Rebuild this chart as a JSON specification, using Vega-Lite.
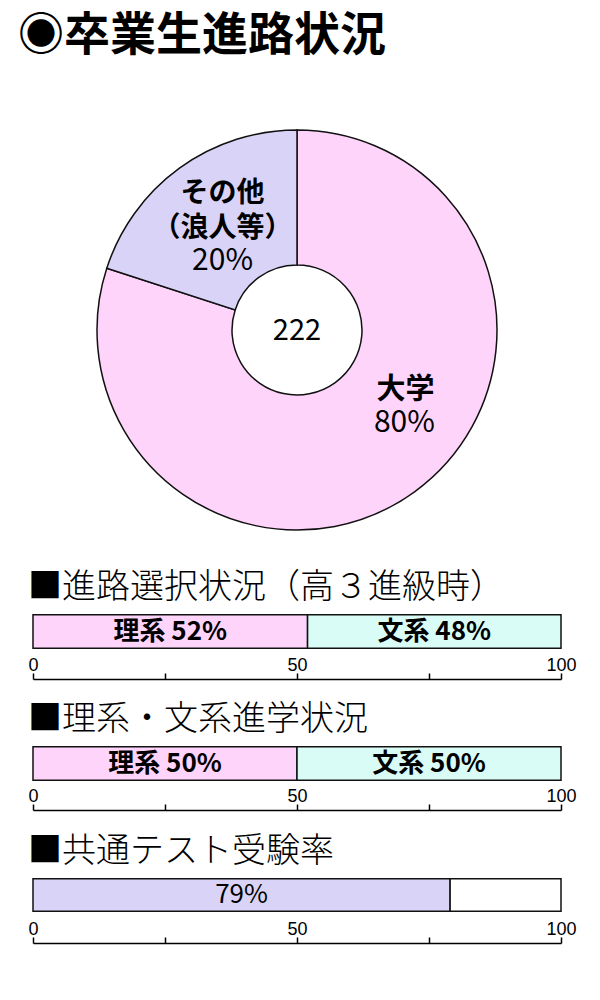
{
  "$schema": "https://vega.github.io/schema/vega-lite/v6.json",
  "padding": {"left": 18, "top": 13, "right": 5, "bottom": 5},
  "background": "white",
  "config": {
    "font": "Noto Sans CJK JP",
    "view": {"stroke": null},
    "axis": {
      "grid": false,
      "title": null,
      "domainColor": "black",
      "domainWidth": 1.5,
      "tickColor": "black",
      "tickWidth": 1.5,
      "tickSize": -6,
      "labelPadding": -3,
      "labelBaseline": "alphabetic",
      "labelAlign": "center",
      "labelFlush": false,
      "labelOverlap": false,
      "labelFontSize": 18,
      "labelFont": "Liberation Sans",
      "labelColor": "black"
    },
    "title": {"color": "black", "anchor": "start", "fontWeight": 300, "fontSize": 34, "offset": 8}
  },
  "title": {"text": "◉卒業生進路状況", "anchor": "start", "fontSize": 46, "fontWeight": "bold", "color": "black", "dx": -15, "offset": 67, "frame": "group"},
  "bounds": "flush",
  "spacing": 83,
  "vconcat": [
    {
      "width": 528,
      "height": 400,
      "layer": [
        {
          "data": {"values": [
            {"cat": "大学", "name": "大学", "pct": "80%", "value": 80},
            {"cat": "その他", "name": "その他\n（浪人等）", "pct": "20%", "value": 20}
          ]},
          "layer": [
            {
              "mark": {"type": "arc", "outerRadius": 200, "innerRadius": 65, "stroke": "#111111", "strokeWidth": 1.5},
              "encoding": {
                "theta": {"field": "value", "type": "quantitative", "stack": true},
                "order": {"field": "value", "sort": "descending"},
                "color": {"field": "cat", "type": "nominal", "legend": null,
                  "scale": {"domain": ["大学", "その他", "理系", "文系", "受験", "未受験"],
                            "range": ["#ffd4fb", "#d9d4f7", "#ffd4fb", "#dafcf6", "#d9d4f7", "#ffffff"]}}
              }
            },
            {
              "mark": {"type": "text", "radius": 130, "dx": 2, "dy": -31, "fontSize": 28, "fontWeight": "bold", "lineBreak": "\n", "lineHeight": 35, "baseline": "middle", "color": "black"},
              "encoding": {
                "theta": {"field": "value", "type": "quantitative", "stack": true},
                "order": {"field": "value", "sort": "descending"},
                "text": {"condition": {"test": "datum.cat === 'その他'", "field": "name"}, "value": ""}
              }
            },
            {
              "mark": {"type": "text", "radius": 130, "dx": 2, "dy": 36, "fontSize": 30, "baseline": "middle", "color": "black"},
              "encoding": {
                "theta": {"field": "value", "type": "quantitative", "stack": true},
                "order": {"field": "value", "sort": "descending"},
                "text": {"condition": {"test": "datum.cat === 'その他'", "field": "pct"}, "value": ""}
              }
            },
            {
              "mark": {"type": "text", "radius": 130, "dx": 32, "dy": -45, "fontSize": 29, "fontWeight": "bold", "baseline": "middle", "color": "black"},
              "encoding": {
                "theta": {"field": "value", "type": "quantitative", "stack": true},
                "order": {"field": "value", "sort": "descending"},
                "text": {"condition": {"test": "datum.cat === '大学'", "field": "name"}, "value": ""}
              }
            },
            {
              "mark": {"type": "text", "radius": 130, "dx": 31, "dy": -12, "fontSize": 30, "baseline": "middle", "color": "black"},
              "encoding": {
                "theta": {"field": "value", "type": "quantitative", "stack": true},
                "order": {"field": "value", "sort": "descending"},
                "text": {"condition": {"test": "datum.cat === '大学'", "field": "pct"}, "value": ""}
              }
            }
          ]
        },
        {
          "data": {"values": [{"total": 222}]},
          "mark": {"type": "text", "fontSize": 29, "baseline": "middle", "align": "center", "color": "black", "dy": 1},
          "encoding": {"text": {"field": "total", "type": "quantitative"}}
        }
      ]
    },
    {
      "bounds": "flush",
      "spacing": 95,
      "vconcat": [
        {
          "width": 528,
          "height": 37,
          "title": {"text": "■進路選択状況（高３進級時）"},
          "data": {"values": [
            {"k": "理系", "v": 52, "label": "理系 52%"},
            {"k": "文系", "v": 48, "label": "文系 48%"}
          ]},
          "encoding": {
            "x": {"field": "v", "type": "quantitative", "stack": "zero",
                  "scale": {"domain": [0, 100], "nice": false},
                  "axis": {"values": [0, 25, 50, 75, 100], "labelExpr": "datum.value % 50 === 0 ? datum.label : ''", "offset": 29}},
            "order": {"field": "k", "sort": "descending"}
          },
          "layer": [
            {"mark": {"type": "bar", "stroke": "#111111", "strokeWidth": 1.5},
             "encoding": {"color": {"field": "k", "type": "nominal", "legend": null,
               "scale": {"domain": ["大学", "その他", "理系", "文系", "受験", "未受験"],
                         "range": ["#ffd4fb", "#d9d4f7", "#ffd4fb", "#dafcf6", "#d9d4f7", "#ffffff"]}}}},
            {"mark": {"type": "text", "fontSize": 26, "fontWeight": "bold", "color": "black", "baseline": "middle"},
             "encoding": {"x": {"field": "v", "type": "quantitative", "stack": "zero", "bandPosition": 0.5},
                          "text": {"field": "label"}}}
          ]
        },
        {
          "width": 528,
          "height": 37,
          "title": {"text": "■理系・文系進学状況"},
          "data": {"values": [
            {"k": "理系", "v": 50, "label": "理系 50%"},
            {"k": "文系", "v": 50, "label": "文系 50%"}
          ]},
          "encoding": {
            "x": {"field": "v", "type": "quantitative", "stack": "zero",
                  "scale": {"domain": [0, 100], "nice": false},
                  "axis": {"values": [0, 25, 50, 75, 100], "labelExpr": "datum.value % 50 === 0 ? datum.label : ''", "offset": 28}},
            "order": {"field": "k", "sort": "descending"}
          },
          "layer": [
            {"mark": {"type": "bar", "stroke": "#111111", "strokeWidth": 1.5},
             "encoding": {"color": {"field": "k", "type": "nominal", "legend": null,
               "scale": {"domain": ["大学", "その他", "理系", "文系", "受験", "未受験"],
                         "range": ["#ffd4fb", "#d9d4f7", "#ffd4fb", "#dafcf6", "#d9d4f7", "#ffffff"]}}}},
            {"mark": {"type": "text", "fontSize": 26, "fontWeight": "bold", "color": "black", "baseline": "middle"},
             "encoding": {"x": {"field": "v", "type": "quantitative", "stack": "zero", "bandPosition": 0.5},
                          "text": {"field": "label"}}}
          ]
        },
        {
          "width": 528,
          "height": 36,
          "title": {"text": "■共通テスト受験率"},
          "data": {"values": [
            {"k": "受験", "v": 79, "label": "79%"},
            {"k": "未受験", "v": 21, "label": ""}
          ]},
          "encoding": {
            "x": {"field": "v", "type": "quantitative", "stack": "zero",
                  "scale": {"domain": [0, 100], "nice": false},
                  "axis": {"values": [0, 25, 50, 75, 100], "labelExpr": "datum.value % 50 === 0 ? datum.label : ''", "offset": 30}},
            "order": {"field": "k", "sort": "ascending"}
          },
          "layer": [
            {"mark": {"type": "bar", "stroke": "#111111", "strokeWidth": 1.5},
             "encoding": {"color": {"field": "k", "type": "nominal", "legend": null,
               "scale": {"domain": ["大学", "その他", "理系", "文系", "受験", "未受験"],
                         "range": ["#ffd4fb", "#d9d4f7", "#ffd4fb", "#dafcf6", "#d9d4f7", "#ffffff"]}}}},
            {"mark": {"type": "text", "fontSize": 26, "color": "black", "baseline": "middle"},
             "encoding": {"x": {"field": "v", "type": "quantitative", "stack": "zero", "bandPosition": 0.5},
                          "text": {"field": "label"}}}
          ]
        }
      ]
    }
  ]
}
